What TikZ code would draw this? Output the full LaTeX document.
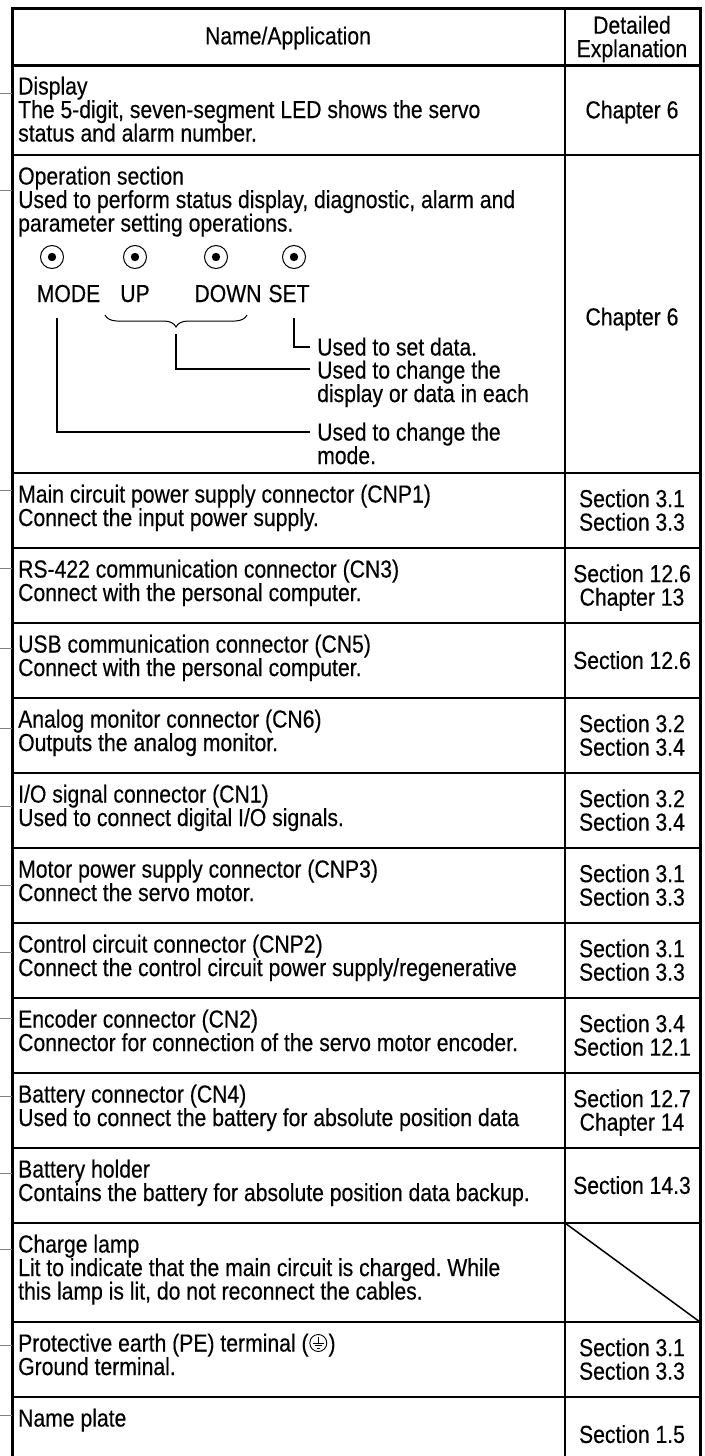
\documentclass[tikz,border=0pt]{standalone}
\usepackage{fontspec}
\setmainfont{Liberation Sans}[FakeStretch=0.86,FakeBold=0.35]
\usetikzlibrary{decorations.pathreplacing,calc}
\begin{document}
\frenchspacing
\begin{tikzpicture}[x=1pt,y=-1pt,
  F/.style={font=\fontsize{24.6}{23.5}\selectfont},
  lcell/.style={F,anchor=north west,align=left,inner sep=0pt,execute at begin node=\strut,execute at end node=\strut},
  rcell/.style={F,anchor=center,align=center,inner sep=0pt,execute at begin node=\strut,execute at end node=\strut},
  lbl/.style={F,anchor=base,inner sep=0pt},
  note/.style={F,anchor=base west,inner sep=0pt},
  rowline/.style={line width=2.2pt},
  outerline/.style={line width=3pt},
  divline/.style={line width=1.4pt},
  leader/.style={draw=black!50,line width=1pt},
  wire/.style={line width=1.4pt},
  btn/.style={circle,draw,line width=1pt,minimum size=23pt,inner sep=0pt,
    path picture={\fill (path picture bounding box.center) circle (4.2pt);}},
]
\fill[white] (0,0) rectangle (704,1456);
\useasboundingbox (0,0) rectangle (704,1456);

% ---------- table frame ----------
\coordinate (TL) at (12,8);
\coordinate (TR) at (700,8);
\coordinate (BL) at (12,1456);
\coordinate (BR) at (700,1456);
\coordinate (DT) at (565,8);
\coordinate (DB) at (565,1456);
\draw[outerline] (12,65) -- (700,65);
\foreach \y in {155,473,548,623,698,773,848,923,998,1073,1148,1223,1322,1397}
  \draw[rowline] (12,\y) -- (700,\y);
\draw[divline] (DT) -- (DB);
\draw[outerline] (BL) -- (TL) -- (TR) -- (BR);
\coordinate (CLa) at (565,1223);
\coordinate (CLb) at (700,1322);
\draw[line width=1.5pt] (CLa) -- (CLb);

% ---------- leaders on the left ----------
\foreach \y [count=\i] in {93,190,490,568,648,728,806,885,952,1018,1096,1173,1249,1345,1415}{
  \coordinate (LA\i) at (0,\y);
  \coordinate (LB\i) at (12,\y);
  \draw[leader] (LA\i) -- (LB\i);
}

% ---------- header ----------
\node[rcell] (hName) at (288,39) {Name/Application};
\node[rcell] (hDet) at (632,40) {Detailed\\Explanation};

% ---------- rows ----------
\node[lcell] (tDisp) at (18,76.5) {Display\\The 5-digit, seven-segment LED shows the servo\\status and alarm number.};
\node[rcell] (rDisp) at (632,113) {Chapter 6};

\node[lcell] (tOp) at (18,166.5) {Operation section\\Used to perform status display, diagnostic, alarm and\\parameter setting operations.};
\node[rcell] (rOp) at (632,320) {Chapter 6};

\node[lcell] (tCNP1) at (18,484.5) {Main circuit power supply connector (CNP1)\\Connect the input power supply.};
\node[rcell] (rCNP1) at (632,513.5) {Section 3.1\\Section 3.3};

\node[lcell] (tCN3) at (18,559.5) {RS-422 communication connector (CN3)\\Connect with the personal computer.};
\node[rcell] (rCN3) at (632,588.5) {Section 12.6\\Chapter 13};

\node[lcell] (tCN5) at (18,634.5) {USB communication connector (CN5)\\Connect with the personal computer.};
\node[rcell] (rCN5) at (632,663.5) {Section 12.6};

\node[lcell] (tCN6) at (18,709.5) {Analog monitor connector (CN6)\\Outputs the analog monitor.};
\node[rcell] (rCN6) at (632,738.5) {Section 3.2\\Section 3.4};

\node[lcell] (tCN1) at (18,784.5) {I/O signal connector (CN1)\\Used to connect digital I/O signals.};
\node[rcell] (rCN1) at (632,813.5) {Section 3.2\\Section 3.4};

\node[lcell] (tCNP3) at (18,859.5) {Motor power supply connector (CNP3)\\Connect the servo motor.};
\node[rcell] (rCNP3) at (632,888.5) {Section 3.1\\Section 3.3};

\node[lcell] (tCNP2) at (18,934.5) {Control circuit connector (CNP2)\\Connect the control circuit power supply/regenerative};
\node[rcell] (rCNP2) at (632,963.5) {Section 3.1\\Section 3.3};

\node[lcell] (tCN2) at (18,1009.5) {Encoder connector (CN2)\\Connector for connection of the servo motor encoder.};
\node[rcell] (rCN2) at (632,1038.5) {Section 3.4\\Section 12.1};

\node[lcell] (tCN4) at (18,1084.5) {Battery connector (CN4)\\Used to connect the battery for absolute position data};
\node[rcell] (rCN4) at (632,1113.5) {Section 12.7\\Chapter 14};

\node[lcell] (tBH) at (18,1159.5) {Battery holder\\Contains the battery for absolute position data backup.};
\node[rcell] (rBH) at (632,1188.5) {Section 14.3};

\node[lcell] (tCL) at (18,1234.5) {Charge lamp\\Lit to indicate that the main circuit is charged. While\\this lamp is lit, do not reconnect the cables.};

\node[note] (tPEa) at (18,1351.5) {Protective earth (PE) terminal (};
\coordinate (peS) at ($(tPEa.base east)+(9.5,-8.5)$);
\draw[line width=0.9pt] (peS) circle (8.5);
\draw[line width=0.9pt] ($(peS)+(0,-6.5)$) -- ($(peS)+(0,0)$);
\draw[line width=0.9pt] ($(peS)+(-5.5,0)$) -- ($(peS)+(5.5,0)$);
\draw[line width=0.9pt] ($(peS)+(-3.5,2.7)$) -- ($(peS)+(3.5,2.7)$);
\draw[line width=0.9pt] ($(peS)+(-1.5,5.3)$) -- ($(peS)+(1.5,5.3)$);
\node[note] (tPEb) at ($(tPEa.base east)+(19.5,0)$) {)};
\node[note] (tPEc) at (18,1375) {Ground terminal.};
\node[rcell] (rPE) at (632,1362.5) {Section 3.1\\Section 3.3};

\node[lcell] (tNP) at (18,1408.5) {Name plate};
\node[rcell] (rNP) at (632,1437.5) {Section 1.5};

% ---------- operation section keys ----------
\node[btn] (bMODE) at (52,257) {};
\node[btn] (bUP) at (135,257) {};
\node[btn] (bDOWN) at (216,257) {};
\node[btn] (bSET) at (294,257) {};
\node[lbl] (lMODE) at (68.5,302) {MODE};
\node[lbl] (lUP) at (135,302) {UP};
\node[lbl] (lDOWN) at (228,302) {DOWN};
\node[lbl] (lSET) at (289,302) {SET};

\coordinate (brL) at (105,315);
\coordinate (brR) at (247,315);
\draw[line width=1pt,decorate,decoration={brace,mirror,amplitude=12pt}] (brL) -- (brR);

\node[note] (nSET) at (317,355.5) {Used to set data.};
\node[lcell] (nUD) at (317,360.5) {Used to change the\\display or data in each};
\node[lcell] (nMODE) at (317,422.5) {Used to change the\\mode.};

\coordinate (sA) at (294,318);
\coordinate (sB) at (294,347);
\draw[wire] (sA) -- (sB) -- ($(nSET.west |- sB)+(-7,0)$);

\coordinate (uA) at (176,334);
\coordinate (uB) at (176,369);
\draw[wire] (uA) -- (uB) -- ($(nUD.west |- uB)+(-7,0)$);

\coordinate (mA) at (57,318);
\coordinate (mB) at (57,432);
\draw[wire] (mA) -- (mB) -- ($(nMODE.west |- mB)+(-7,0)$);
\end{tikzpicture}
\end{document}
